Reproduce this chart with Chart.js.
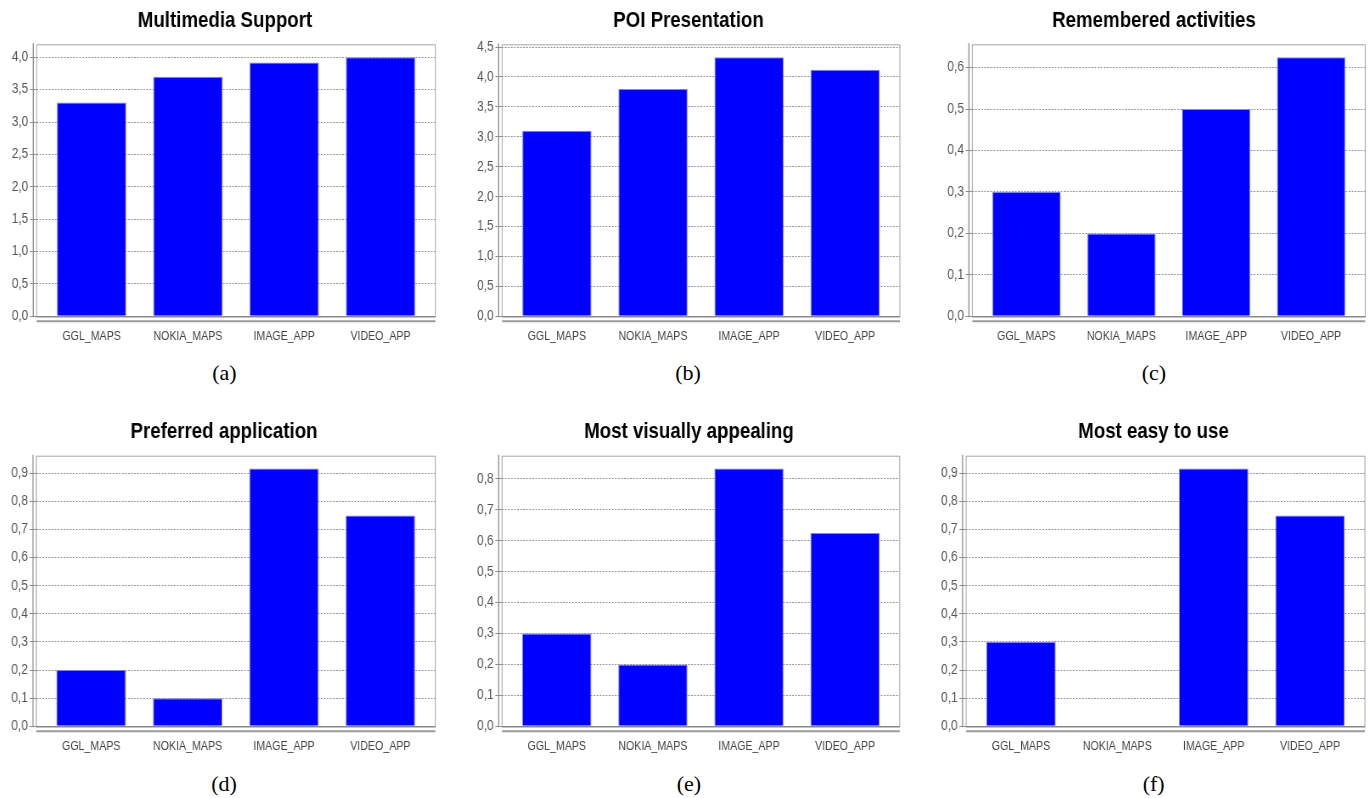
<!DOCTYPE html>
<html>
<head>
<meta charset="utf-8">
<script src="https://cdn.jsdelivr.net/npm/chart.js@4.4.1/dist/chart.umd.min.js"></script>
<style>
  html, body { margin: 0; padding: 0; background: #ffffff; width: 1370px; height: 798px; overflow: hidden; }
  canvas { position: absolute; }
  .cap { position: absolute; width: 100px; text-align: center; font-family: "Liberation Serif", "Times New Roman", serif; font-size: 22px; line-height: 22px; color: #000; }
</style>
</head>
<body>
<script>
// ---------------- data ----------------
const categories = ['GGL_MAPS', 'NOKIA_MAPS', 'IMAGE_APP', 'VIDEO_APP'];

const titles = ['Multimedia Support', 'POI Presentation', 'Remembered activities',
                'Preferred application', 'Most visually appealing', 'Most easy to use'];
const captions = ['(a)', '(b)', '(c)', '(d)', '(e)', '(f)'];

const multimediaSupport    = [3.3, 3.7, 3.92, 4.0];
const poiPresentation      = [3.1, 3.8, 4.33, 4.12];
const rememberedActivities = [0.3, 0.2, 0.5, 0.625];
const preferredApplication = [0.2, 0.1, 0.9167, 0.75];
const mostVisuallyAppealing = [0.3, 0.2, 0.8333, 0.625];
const mostEasyToUse        = [0.3, 0.0, 0.9167, 0.75];

const ticksA = [0.0, 0.5, 1.0, 1.5, 2.0, 2.5, 3.0, 3.5, 4.0];
const ticksB = [0.0, 0.5, 1.0, 1.5, 2.0, 2.5, 3.0, 3.5, 4.0, 4.5];
const ticksC = [0.0, 0.1, 0.2, 0.3, 0.4, 0.5, 0.6];
const ticksD = [0.0, 0.1, 0.2, 0.3, 0.4, 0.5, 0.6, 0.7, 0.8, 0.9];
const ticksE = [0.0, 0.1, 0.2, 0.3, 0.4, 0.5, 0.6, 0.7, 0.8];
const ticksF = [0.0, 0.1, 0.2, 0.3, 0.4, 0.5, 0.6, 0.7, 0.8, 0.9];

const seriesList = [multimediaSupport, poiPresentation, rememberedActivities,
                    preferredApplication, mostVisuallyAppealing, mostEasyToUse];
const tickList = [ticksA, ticksB, ticksC, ticksD, ticksE, ticksF];

// ---------------- layout (pixels) ----------------
const S = 0.85; // horizontal compression of the chart images
const layoutPanels = [
  { cl: 5,     cr: 445,  fL: 36.7,  fR: 435.7, top: 0,   tpt: 8.2, tpb: 9.7,  capX: 224.5, capY: 362 },
  { cl: 471.6, cr: 905,  fL: 501.7, fR: 900,   top: 0,   tpt: 8.2, tpb: 9.7,  capX: 688,   capY: 362 },
  { cl: 938,   cr: 1370, fL: 972.3, fR: 1365,  top: 0,   tpt: 8.2, tpb: 9.7,  capX: 1154,  capY: 362 },
  { cl: 3.4,   cr: 445,  fL: 36.7,  fR: 435.7, top: 410, tpt: 8.7, tpb: 10.6, capX: 224,   capY: 773 },
  { cl: 472.6, cr: 905,  fL: 501.7, fR: 900,   top: 410, tpt: 8.7, tpb: 10.6, capX: 689,   capY: 773 },
  { cl: 936.6, cr: 1370, fL: 965.7, fR: 1365,  top: 410, tpt: 8.7, tpb: 10.6, capX: 1153.7, capY: 773 }
];
const CANVAS_H = 350;
const PLOT_BOTTOM = 316.3;

Chart.defaults.font.family = '"Liberation Sans", Arial, Helvetica, sans-serif';

function fmt(v) { return Number(v).toFixed(1).replace('.', ','); }

const framePlugin = {
  id: 'frame',
  afterDraw(chart) {
    const a = chart.chartArea;
    const ctx = chart.ctx;
    ctx.save();
    ctx.strokeStyle = '#a6a6a6';
    ctx.lineWidth = 1;
    ctx.strokeRect(a.left, a.top + 0.5, a.right - a.left, a.bottom - a.top);
    ctx.strokeStyle = '#7a7a7a';
    ctx.beginPath();
    ctx.moveTo(a.left, a.bottom + 0.5);
    ctx.lineTo(a.right, a.bottom + 0.5);
    ctx.stroke();
    ctx.strokeStyle = '#8c8c8c';
    ctx.lineWidth = 1.3;
    const xa = a.left - 3.4 / S;
    ctx.beginPath();
    ctx.moveTo(xa, a.top - 1);
    ctx.lineTo(xa, a.bottom + 1);
    ctx.stroke();
    ctx.strokeStyle = '#9a9a9a';
    ctx.lineWidth = 2;
    ctx.beginPath();
    ctx.moveTo(a.left, a.bottom + 5);
    ctx.lineTo(a.right, a.bottom + 5);
    ctx.stroke();
    ctx.restore();
  }
};

layoutPanels.forEach((p, k) => {
  const values = seriesList[k];
  const yTicks = tickList[k];
  const yMax = Math.max(...values) * 1.05;

  const Wv = Math.round((p.cr - p.cl) / S);
  const cv = document.createElement('canvas');
  cv.width = Wv;
  cv.height = CANVAS_H;
  cv.style.left = p.cl + 'px';
  cv.style.top = p.top + 'px';
  cv.style.width = (Wv * S) + 'px';
  cv.style.height = CANVAS_H + 'px';
  document.body.appendChild(cv);

  const yW = (p.fL - p.cl) / S;
  const rW = Wv - (p.fR - p.cl) / S;
  const xH = CANVAS_H - PLOT_BOTTOM;

  new Chart(cv, {
    type: 'bar',
    data: {
      datasets: [{
        data: values.map((v, i) => ({ x: i, y: v })),
        xAxisID: 'x',
        yAxisID: 'y',
        backgroundColor: '#0000ff',
        borderColor: '#8080ff',
        borderWidth: 1,
        categoryPercentage: 1,
        barPercentage: 0.72
      }]
    },
    options: {
      responsive: false,
      animation: false,
      devicePixelRatio: 1,
      layout: { padding: 0 },
      plugins: {
        legend: { display: false },
        tooltip: { enabled: false },
        title: {
          display: true,
          text: titles[k],
          color: '#000000',
          font: { size: 22, weight: 'bold', lineHeight: 1.2 },
          padding: { top: p.tpt, bottom: p.tpb }
        }
      },
      scales: {
        x: {
          type: 'linear',
          position: 'bottom',
          min: -0.57,
          max: 3.57,
          offset: false,
          grid: { display: false, drawTicks: false, offset: false },
          border: { display: false },
          afterBuildTicks: (s) => { s.ticks = categories.map((c, i) => ({ value: i })); },
          ticks: {
            autoSkip: false,
            maxRotation: 0,
            minRotation: 0,
            padding: 12.8,
            color: '#444444',
            font: { size: 12.5 },
            callback: (v) => categories[v]
          },
          afterFit: (s) => { s.height = xH; }
        },
        y: {
          type: 'linear',
          position: 'left',
          min: 0,
          max: yMax,
          grid: { color: '#8f8f8f', lineWidth: 1, drawTicks: true, tickLength: 7.9, tickColor: '#8c8c8c' },
          border: { display: false, dash: [2, 1.6] },
          afterBuildTicks: (s) => { s.ticks = yTicks.map((v) => ({ value: v })); },
          ticks: {
            padding: 2,
            color: '#555555',
            font: { size: 14 },
            callback: (v) => fmt(v)
          },
          afterFit: (s) => { s.width = yW; }
        },
        y2: {
          type: 'linear',
          position: 'right',
          display: true,
          grid: { display: false, drawTicks: false },
          border: { display: false },
          ticks: { display: false },
          afterFit: (s) => { s.width = rW; }
        }
      }
    },
    plugins: [framePlugin]
  });

  const cap = document.createElement('div');
  cap.className = 'cap';
  cap.textContent = captions[k];
  cap.style.left = (p.capX - 50) + 'px';
  cap.style.top = p.capY + 'px';
  document.body.appendChild(cap);
});
</script>
</body>
</html>
